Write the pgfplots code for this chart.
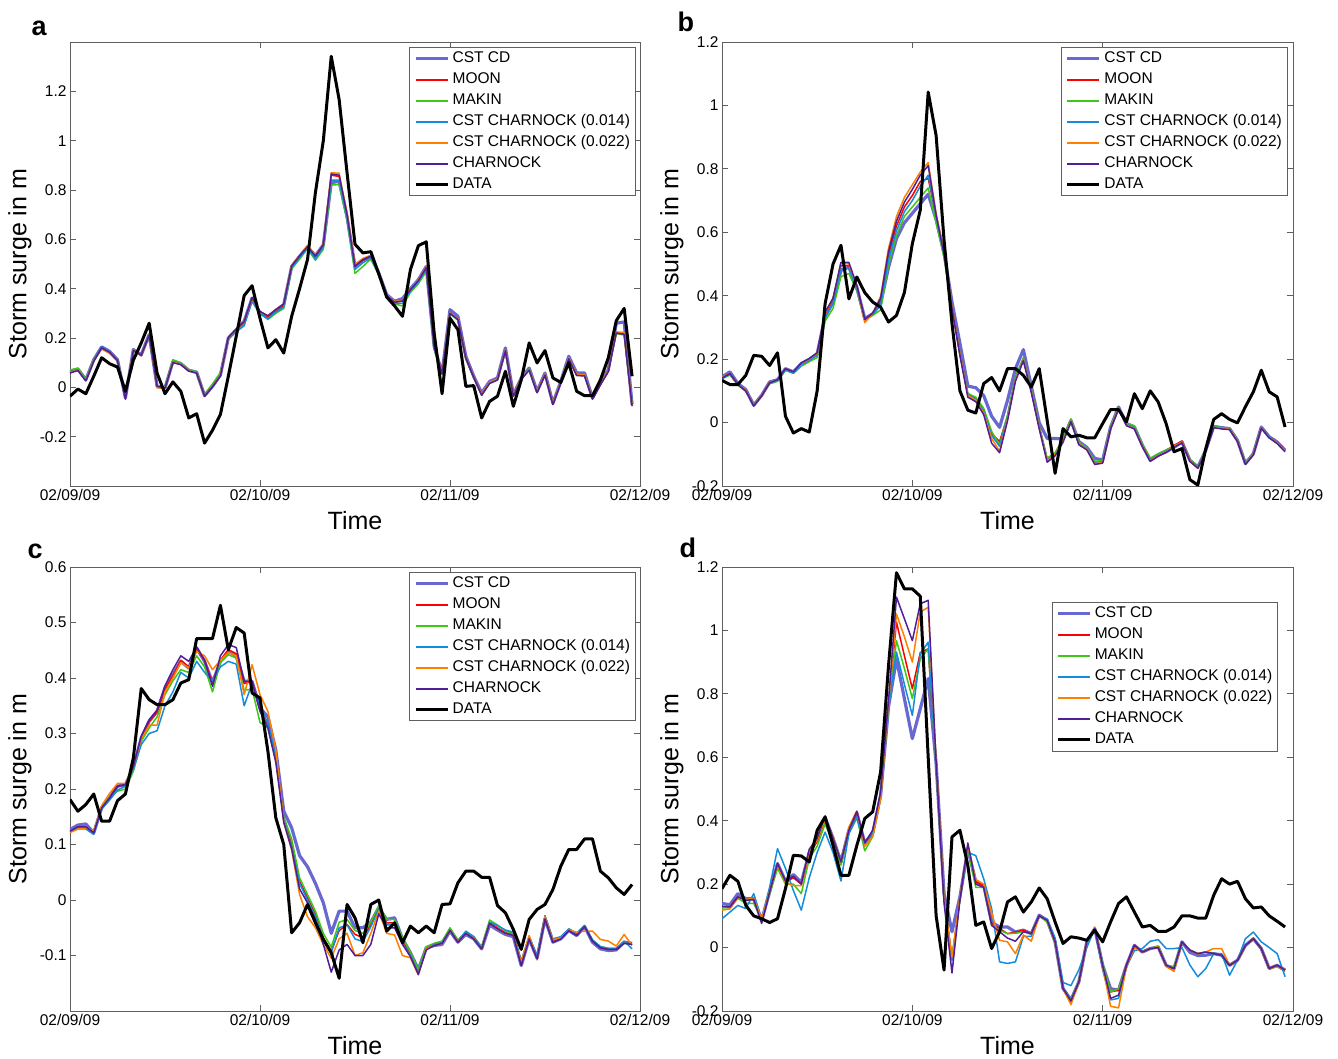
\documentclass[border=0pt]{standalone}
\usepackage{fontspec}
\setmainfont{Liberation Sans}
\usepackage{pgfplots}
\pgfplotsset{compat=1.18}
\usepackage{pgfplotstable}

\definecolor{cstcd}{RGB}{104,104,210}
\definecolor{moon}{RGB}{255,0,0}
\definecolor{makin}{RGB}{60,200,20}
\definecolor{cfour}{RGB}{20,140,220}
\definecolor{ctwo}{RGB}{255,128,0}
\definecolor{charn}{RGB}{80,30,150}
\definecolor{axgray}{RGB}{95,95,95}

\pgfplotstableread{
h cd moon makin c14 c22 ch data
0 0.065 0.062 0.070 0.062 0.060 0.058 -0.036
1 0.074 0.072 0.078 0.072 0.070 0.068 -0.007
2 0.031 0.030 0.035 0.030 0.028 0.026 -0.026
3 0.112 0.110 0.114 0.110 0.108 0.106 0.045
4 0.164 0.158 0.160 0.162 0.155 0.160 0.120
5 0.146 0.140 0.142 0.144 0.138 0.142 0.096
6 0.112 0.108 0.110 0.110 0.105 0.108 0.082
7 -0.043 -0.040 -0.035 -0.040 -0.042 -0.048 -0.016
8 0.153 0.150 0.148 0.150 0.152 0.150 0.110
9 0.132 0.128 0.130 0.130 0.128 0.130 0.180
10 0.214 0.210 0.205 0.208 0.212 0.212 0.260
11 0.004 0.002 0.008 0.004 -0.002 0.004 0.058
12 -0.003 -0.002 0.002 -0.002 -0.004 -0.003 -0.026
13 0.105 0.105 0.112 0.105 0.102 0.100 0.022
14 0.096 0.096 0.100 0.096 0.094 0.092 -0.016
15 0.069 0.070 0.072 0.070 0.068 0.066 -0.124
16 0.061 0.062 0.064 0.062 0.060 0.058 -0.107
17 -0.034 -0.032 -0.028 -0.032 -0.036 -0.036 -0.226
18 0.004 0.008 0.014 0.006 0.004 0.002 -0.174
19 0.050 0.052 0.060 0.050 0.048 0.046 -0.110
20 0.200 0.198 0.195 0.196 0.200 0.202 0.045
21 0.234 0.232 0.228 0.225 0.236 0.236 0.207
22 0.268 0.262 0.255 0.250 0.266 0.266 0.372
23 0.362 0.360 0.352 0.348 0.360 0.364 0.412
24 0.300 0.305 0.300 0.300 0.306 0.308 0.280
25 0.285 0.285 0.275 0.278 0.290 0.290 0.160
26 0.312 0.310 0.300 0.305 0.315 0.315 0.193
27 0.335 0.330 0.320 0.325 0.338 0.338 0.139
28 0.490 0.490 0.480 0.485 0.495 0.492 0.288
29 0.531 0.530 0.520 0.525 0.535 0.533 0.400
30 0.569 0.572 0.562 0.565 0.575 0.570 0.518
31 0.534 0.530 0.515 0.520 0.535 0.532 0.790
32 0.578 0.575 0.560 0.568 0.580 0.578 1.000
33 0.830 0.860 0.820 0.840 0.870 0.865 1.342
34 0.835 0.855 0.822 0.840 0.868 0.860 1.166
35 0.690 0.695 0.680 0.688 0.705 0.700 0.869
36 0.490 0.495 0.462 0.478 0.500 0.490 0.580
37 0.517 0.515 0.490 0.505 0.522 0.518 0.545
38 0.531 0.530 0.520 0.525 0.535 0.532 0.550
39 0.464 0.462 0.455 0.460 0.466 0.464 0.460
40 0.376 0.372 0.365 0.368 0.375 0.372 0.366
41 0.349 0.345 0.338 0.340 0.348 0.345 0.330
42 0.360 0.350 0.330 0.340 0.352 0.350 0.288
43 0.400 0.395 0.385 0.390 0.398 0.396 0.477
44 0.436 0.432 0.420 0.428 0.435 0.432 0.574
45 0.490 0.485 0.470 0.478 0.488 0.485 0.590
46 0.166 0.162 0.155 0.160 0.165 0.162 0.220
47 0.058 0.055 0.052 0.056 0.058 0.055 -0.026
48 0.315 0.300 0.298 0.300 0.302 0.300 0.280
49 0.288 0.275 0.272 0.275 0.278 0.275 0.234
50 0.126 0.118 0.115 0.118 0.120 0.118 0.004
51 0.045 0.040 0.038 0.040 0.042 0.040 0.007
52 -0.023 -0.030 -0.032 -0.030 -0.028 -0.032 -0.124
53 0.024 0.018 0.016 0.018 0.020 0.016 -0.057
54 0.038 0.032 0.030 0.032 0.034 0.030 -0.036
55 0.160 0.148 0.145 0.148 0.150 0.148 0.065
56 -0.030 -0.034 -0.032 -0.034 -0.032 -0.036 -0.077
57 0.038 0.034 0.036 0.034 0.035 0.032 0.030
58 0.078 0.072 0.075 0.070 0.072 0.070 0.180
59 -0.016 -0.020 -0.018 -0.020 -0.019 -0.022 0.099
60 0.058 0.052 0.054 0.052 0.054 0.050 0.149
61 -0.064 -0.068 -0.066 -0.068 -0.066 -0.070 0.038
62 0.024 0.020 0.022 0.020 0.021 0.018 0.020
63 0.126 0.118 0.120 0.118 0.120 0.116 0.100
64 0.058 0.050 0.052 0.050 0.052 0.048 -0.016
65 0.058 0.048 0.050 0.048 0.050 0.046 -0.034
66 -0.043 -0.046 -0.044 -0.046 -0.045 -0.048 -0.034
67 0.018 0.012 0.015 0.012 0.014 0.010 0.030
68 0.072 0.065 0.066 0.065 0.068 0.064 0.120
69 0.260 0.220 0.218 0.222 0.225 0.220 0.270
70 0.265 0.215 0.212 0.218 0.222 0.215 0.320
71 -0.070 -0.072 -0.070 -0.074 -0.072 -0.076 0.045
}\tA

\pgfplotstableread{
h cd moon makin c14 c22 ch data
0 0.144 0.140 0.138 0.140 0.142 0.140 0.133
1 0.160 0.155 0.150 0.152 0.156 0.155 0.120
2 0.123 0.120 0.118 0.120 0.120 0.120 0.120
3 0.104 0.100 0.098 0.100 0.102 0.100 0.149
4 0.055 0.055 0.056 0.055 0.054 0.052 0.212
5 0.086 0.085 0.086 0.085 0.084 0.084 0.209
6 0.128 0.125 0.122 0.124 0.126 0.125 0.180
7 0.135 0.132 0.130 0.132 0.134 0.135 0.220
8 0.170 0.168 0.165 0.166 0.170 0.170 0.020
9 0.160 0.158 0.155 0.156 0.160 0.160 -0.033
10 0.186 0.184 0.178 0.182 0.186 0.188 -0.019
11 0.199 0.198 0.192 0.196 0.200 0.202 -0.030
12 0.217 0.215 0.205 0.212 0.218 0.220 0.100
13 0.335 0.343 0.320 0.330 0.345 0.348 0.375
14 0.380 0.390 0.360 0.375 0.392 0.392 0.500
15 0.480 0.495 0.460 0.485 0.505 0.505 0.559
16 0.490 0.495 0.470 0.488 0.500 0.505 0.390
17 0.427 0.427 0.415 0.420 0.430 0.432 0.459
18 0.328 0.325 0.322 0.325 0.315 0.325 0.410
19 0.343 0.343 0.338 0.340 0.345 0.345 0.380
20 0.375 0.385 0.355 0.372 0.398 0.392 0.364
21 0.490 0.530 0.500 0.515 0.550 0.540 0.317
22 0.580 0.620 0.590 0.605 0.650 0.635 0.338
23 0.630 0.680 0.650 0.665 0.710 0.695 0.410
24 0.660 0.716 0.680 0.700 0.750 0.735 0.564
25 0.690 0.760 0.710 0.745 0.790 0.780 0.670
26 0.720 0.770 0.740 0.780 0.820 0.810 1.042
27 0.640 0.650 0.630 0.650 0.660 0.655 0.905
28 0.535 0.530 0.520 0.530 0.535 0.530 0.575
29 0.380 0.364 0.360 0.362 0.365 0.360 0.312
30 0.250 0.217 0.215 0.215 0.218 0.212 0.100
31 0.115 0.090 0.092 0.088 0.085 0.080 0.039
32 0.110 0.076 0.080 0.074 0.070 0.066 0.030
33 0.085 0.039 0.045 0.035 0.030 0.025 0.123
34 0.020 -0.035 -0.028 -0.040 -0.050 -0.065 0.142
35 -0.015 -0.060 -0.070 -0.075 -0.090 -0.095 0.100
36 0.070 0.020 0.025 0.018 0.012 0.005 0.170
37 0.170 0.140 0.145 0.140 0.135 0.130 0.170
38 0.230 0.200 0.205 0.200 0.198 0.195 0.149
39 0.115 0.100 0.105 0.100 0.098 0.095 0.112
40 0.000 -0.014 -0.010 -0.014 -0.016 -0.020 0.170
41 -0.050 -0.115 -0.112 -0.118 -0.120 -0.125 0.007
42 -0.050 -0.100 -0.095 -0.100 -0.100 -0.105 -0.160
43 -0.052 -0.056 -0.050 -0.058 -0.060 -0.062 -0.019
44 0.007 0.008 0.012 0.006 0.005 0.003 -0.045
45 -0.060 -0.066 -0.062 -0.068 -0.068 -0.070 -0.040
46 -0.078 -0.082 -0.080 -0.082 -0.084 -0.086 -0.048
47 -0.113 -0.125 -0.122 -0.128 -0.130 -0.132 -0.048
48 -0.118 -0.124 -0.120 -0.124 -0.126 -0.128 -0.003
49 -0.014 -0.016 -0.012 -0.016 -0.018 -0.020 0.041
50 0.049 0.046 0.048 0.046 0.044 0.042 0.041
51 -0.003 -0.006 -0.002 -0.006 -0.008 -0.010 0.002
52 -0.014 -0.016 -0.010 -0.016 -0.018 -0.020 0.091
53 -0.071 -0.072 -0.068 -0.072 -0.074 -0.076 0.044
54 -0.119 -0.118 -0.112 -0.118 -0.120 -0.122 0.100
55 -0.103 -0.100 -0.098 -0.102 -0.104 -0.106 0.065
56 -0.092 -0.088 -0.086 -0.090 -0.092 -0.094 -0.003
57 -0.078 -0.072 -0.074 -0.075 -0.076 -0.078 -0.092
58 -0.061 -0.058 -0.062 -0.061 -0.062 -0.064 -0.082
59 -0.119 -0.118 -0.116 -0.119 -0.120 -0.122 -0.180
60 -0.140 -0.142 -0.138 -0.140 -0.144 -0.144 -0.197
61 -0.087 -0.087 -0.085 -0.087 -0.088 -0.090 -0.082
62 -0.012 -0.014 -0.012 -0.014 -0.015 -0.016 0.010
63 -0.016 -0.018 -0.016 -0.018 -0.018 -0.020 0.028
64 -0.019 -0.020 -0.018 -0.020 -0.021 -0.022 0.010
65 -0.056 -0.058 -0.056 -0.058 -0.058 -0.060 -0.001
66 -0.129 -0.128 -0.126 -0.128 -0.130 -0.132 0.050
67 -0.098 -0.098 -0.096 -0.098 -0.100 -0.102 0.097
68 -0.014 -0.016 -0.014 -0.016 -0.018 -0.018 0.165
69 -0.045 -0.046 -0.048 -0.044 -0.046 -0.048 0.097
70 -0.061 -0.062 -0.066 -0.062 -0.064 -0.066 0.081
71 -0.087 -0.088 -0.090 -0.090 -0.090 -0.092 -0.014
}\tB

\pgfplotstableread{
h cd moon makin c14 c22 ch data
0 0.127 0.124 0.124 0.122 0.122 0.124 0.181
1 0.135 0.130 0.130 0.128 0.128 0.132 0.160
2 0.137 0.130 0.130 0.128 0.130 0.132 0.172
3 0.121 0.121 0.122 0.118 0.124 0.121 0.191
4 0.166 0.166 0.168 0.164 0.170 0.166 0.142
5 0.184 0.184 0.186 0.180 0.192 0.184 0.142
6 0.205 0.205 0.196 0.198 0.210 0.205 0.179
7 0.208 0.208 0.200 0.205 0.210 0.208 0.191
8 0.238 0.238 0.232 0.236 0.240 0.240 0.256
9 0.292 0.292 0.286 0.280 0.290 0.295 0.381
10 0.322 0.322 0.310 0.300 0.315 0.325 0.361
11 0.340 0.338 0.330 0.305 0.315 0.342 0.352
12 0.382 0.380 0.370 0.350 0.375 0.386 0.352
13 0.406 0.404 0.395 0.375 0.400 0.415 0.361
14 0.430 0.432 0.415 0.410 0.428 0.440 0.391
15 0.418 0.420 0.410 0.400 0.418 0.430 0.397
16 0.454 0.452 0.440 0.430 0.448 0.456 0.471
17 0.430 0.432 0.420 0.410 0.440 0.432 0.471
18 0.392 0.390 0.375 0.395 0.415 0.385 0.471
19 0.430 0.432 0.428 0.420 0.432 0.440 0.531
20 0.448 0.451 0.442 0.430 0.446 0.460 0.451
21 0.440 0.444 0.436 0.425 0.440 0.455 0.491
22 0.394 0.390 0.378 0.350 0.370 0.394 0.481
23 0.394 0.394 0.380 0.390 0.424 0.394 0.373
24 0.346 0.346 0.320 0.350 0.370 0.340 0.364
25 0.330 0.316 0.310 0.318 0.340 0.310 0.268
26 0.270 0.256 0.250 0.260 0.270 0.248 0.148
27 0.160 0.148 0.150 0.145 0.140 0.140 0.100
28 0.130 0.100 0.110 0.095 0.090 0.092 -0.059
29 0.080 0.034 0.040 0.030 0.010 0.020 -0.041
30 0.060 0.004 0.010 0.000 -0.030 -0.005 -0.008
31 0.030 -0.026 -0.020 -0.030 -0.050 -0.035 -0.041
32 -0.005 -0.068 -0.060 -0.070 -0.080 -0.080 -0.071
33 -0.060 -0.092 -0.085 -0.095 -0.105 -0.130 -0.095
34 -0.020 -0.055 -0.040 -0.050 -0.070 -0.090 -0.141
35 -0.020 -0.044 -0.035 -0.045 -0.060 -0.080 -0.008
36 -0.050 -0.062 -0.055 -0.070 -0.100 -0.100 -0.032
37 -0.050 -0.068 -0.060 -0.075 -0.095 -0.100 -0.077
38 -0.040 -0.044 -0.040 -0.048 -0.060 -0.080 -0.008
39 -0.014 -0.014 -0.010 -0.016 -0.020 -0.025 0.000
40 -0.035 -0.041 -0.035 -0.045 -0.060 -0.050 -0.056
41 -0.032 -0.041 -0.035 -0.045 -0.063 -0.050 -0.041
42 -0.070 -0.074 -0.068 -0.078 -0.100 -0.080 -0.077
43 -0.095 -0.098 -0.094 -0.100 -0.104 -0.102 -0.047
44 -0.125 -0.130 -0.125 -0.132 -0.135 -0.134 -0.059
45 -0.086 -0.086 -0.084 -0.088 -0.088 -0.090 -0.047
46 -0.082 -0.080 -0.078 -0.080 -0.082 -0.082 -0.059
47 -0.080 -0.077 -0.074 -0.077 -0.078 -0.078 -0.008
48 -0.056 -0.053 -0.050 -0.054 -0.055 -0.055 -0.007
49 -0.076 -0.074 -0.072 -0.074 -0.075 -0.076 0.031
50 -0.062 -0.059 -0.058 -0.056 -0.060 -0.060 0.052
51 -0.070 -0.068 -0.066 -0.066 -0.069 -0.070 0.052
52 -0.088 -0.086 -0.084 -0.086 -0.087 -0.088 0.041
53 -0.045 -0.041 -0.036 -0.040 -0.042 -0.042 0.041
54 -0.054 -0.050 -0.045 -0.046 -0.052 -0.052 -0.010
55 -0.062 -0.059 -0.056 -0.054 -0.060 -0.060 -0.023
56 -0.066 -0.062 -0.060 -0.058 -0.064 -0.064 -0.053
57 -0.118 -0.116 -0.110 -0.110 -0.112 -0.118 -0.089
58 -0.070 -0.068 -0.066 -0.066 -0.064 -0.070 -0.035
59 -0.105 -0.105 -0.102 -0.100 -0.108 -0.106 -0.017
60 -0.034 -0.032 -0.030 -0.028 -0.030 -0.034 -0.008
61 -0.076 -0.074 -0.072 -0.070 -0.072 -0.076 0.019
62 -0.070 -0.068 -0.068 -0.066 -0.068 -0.070 0.061
63 -0.055 -0.053 -0.052 -0.052 -0.054 -0.055 0.091
64 -0.064 -0.062 -0.060 -0.060 -0.058 -0.064 0.091
65 -0.048 -0.047 -0.046 -0.046 -0.056 -0.048 0.110
66 -0.076 -0.074 -0.072 -0.072 -0.056 -0.074 0.110
67 -0.088 -0.086 -0.084 -0.084 -0.071 -0.086 0.052
68 -0.091 -0.089 -0.087 -0.087 -0.074 -0.089 0.040
69 -0.090 -0.089 -0.087 -0.087 -0.083 -0.089 0.022
70 -0.076 -0.077 -0.078 -0.074 -0.062 -0.078 0.010
71 -0.078 -0.080 -0.080 -0.088 -0.082 -0.080 0.028
}\tC

\pgfplotstableread{
h cd moon makin c14 c22 ch data
0 0.139 0.128 0.125 0.091 0.118 0.130 0.186
1 0.135 0.128 0.125 0.112 0.122 0.128 0.228
2 0.170 0.160 0.155 0.133 0.158 0.160 0.209
3 0.154 0.149 0.140 0.123 0.152 0.149 0.133
4 0.154 0.152 0.139 0.170 0.155 0.152 0.100
5 0.086 0.086 0.090 0.090 0.090 0.076 0.091
6 0.175 0.175 0.170 0.190 0.178 0.175 0.079
7 0.265 0.260 0.250 0.312 0.260 0.265 0.091
8 0.210 0.207 0.200 0.250 0.205 0.210 0.186
9 0.230 0.220 0.200 0.180 0.195 0.225 0.291
10 0.205 0.200 0.170 0.118 0.195 0.200 0.289
11 0.300 0.295 0.280 0.220 0.300 0.310 0.270
12 0.340 0.335 0.320 0.300 0.340 0.345 0.370
13 0.410 0.405 0.390 0.364 0.405 0.415 0.412
14 0.345 0.340 0.330 0.300 0.350 0.345 0.322
15 0.270 0.265 0.260 0.210 0.270 0.270 0.228
16 0.370 0.370 0.360 0.360 0.380 0.370 0.228
17 0.425 0.425 0.410 0.410 0.430 0.430 0.322
18 0.330 0.330 0.305 0.320 0.320 0.330 0.407
19 0.360 0.360 0.350 0.360 0.350 0.370 0.428
20 0.480 0.480 0.470 0.480 0.470 0.490 0.554
21 0.760 0.770 0.760 0.760 0.770 0.780 0.890
22 0.910 1.026 0.968 0.932 1.052 1.105 1.182
23 0.785 0.920 0.880 0.830 0.980 1.037 1.131
24 0.659 0.816 0.785 0.732 0.900 0.968 1.131
25 0.753 0.930 0.910 0.926 1.058 1.084 1.108
26 0.848 0.942 0.942 0.963 1.073 1.095 0.600
27 0.580 0.575 0.575 0.570 0.590 0.585 0.100
28 0.170 0.154 0.150 0.160 0.155 0.140 -0.071
29 0.050 -0.035 -0.030 -0.040 -0.030 -0.080 0.349
30 0.160 0.154 0.150 0.155 0.160 0.150 0.370
31 0.310 0.322 0.310 0.300 0.320 0.330 0.259
32 0.207 0.207 0.190 0.290 0.215 0.200 0.070
33 0.196 0.196 0.190 0.217 0.200 0.190 0.081
34 0.080 0.076 0.070 0.123 0.110 0.070 -0.003
35 0.065 0.060 0.055 -0.045 0.023 0.050 0.050
36 0.065 0.044 0.044 -0.050 0.018 0.030 0.144
37 0.049 0.049 0.045 -0.045 -0.019 0.020 0.160
38 0.055 0.055 0.050 0.035 0.040 0.050 0.112
39 0.044 0.044 0.044 0.035 0.020 0.044 0.144
40 0.102 0.102 0.100 0.100 0.100 0.100 0.188
41 0.086 0.086 0.080 0.090 0.086 0.086 0.154
42 0.018 0.018 0.015 0.030 0.015 0.018 0.081
43 -0.129 -0.129 -0.130 -0.110 -0.130 -0.129 0.013
44 -0.165 -0.171 -0.165 -0.120 -0.180 -0.168 0.034
45 -0.108 -0.108 -0.105 -0.070 -0.110 -0.108 0.030
46 0.018 0.018 0.015 0.000 0.015 0.018 0.023
47 0.060 0.060 0.060 0.060 0.065 0.060 0.055
48 -0.056 -0.056 -0.050 -0.070 -0.060 -0.056 0.018
49 -0.130 -0.140 -0.140 -0.165 -0.185 -0.160 0.081
50 -0.134 -0.134 -0.130 -0.160 -0.190 -0.150 0.139
51 -0.056 -0.056 -0.060 -0.060 -0.060 -0.056 0.160
52 0.007 0.007 0.000 -0.010 0.000 0.007 0.112
53 -0.014 -0.014 -0.014 -0.003 -0.014 -0.014 0.065
54 -0.003 -0.003 -0.003 0.020 -0.003 -0.003 0.070
55 0.002 0.002 0.005 0.025 0.002 0.000 0.051
56 -0.056 -0.056 -0.056 -0.003 -0.060 -0.056 0.051
57 -0.066 -0.066 -0.060 -0.003 -0.075 -0.066 0.065
58 0.018 0.018 0.018 0.000 0.018 0.018 0.100
59 -0.015 -0.008 -0.008 -0.055 -0.008 -0.008 0.100
60 -0.025 -0.019 -0.020 -0.092 -0.019 -0.019 0.093
61 -0.024 -0.014 -0.014 -0.066 -0.014 -0.014 0.093
62 -0.019 -0.019 -0.019 -0.019 -0.003 -0.019 0.165
63 -0.024 -0.024 -0.024 -0.019 -0.003 -0.024 0.217
64 -0.056 -0.056 -0.056 -0.087 -0.056 -0.056 0.200
65 -0.040 -0.040 -0.040 -0.040 -0.040 -0.040 0.209
66 0.007 0.007 0.007 0.028 0.007 0.007 0.154
67 0.028 0.028 0.028 0.049 0.028 0.028 0.125
68 -0.003 -0.003 -0.003 0.018 -0.003 -0.003 0.128
69 -0.066 -0.066 -0.066 0.000 -0.066 -0.066 0.100
70 -0.056 -0.056 -0.060 -0.019 -0.060 -0.056 0.083
71 -0.071 -0.071 -0.075 -0.092 -0.070 -0.071 0.065
}\tD

\pgfplotsset{
  panel/.style={
    scale only axis, height=444pt,
    xmin=0, xmax=72, xtick={0,24,48,72},
    xticklabels={02/09/09,02/10/09,02/11/09,02/12/09},
    tick align=inside, tick pos=both, major tick length=6pt,
    axis line style={axgray, line width=0.9pt},
    tick style={axgray, line width=0.9pt},
    every tick label/.append style={font=\fontsize{15.5}{18}\selectfont, text=black},
    /pgf/number format/assume math mode=true,
    xlabel={Time}, ylabel={Storm surge in m},
    label style={font=\fontsize{25}{30}\selectfont},
    xlabel style={at={(axis description cs:0.5,-0.097)}, anchor=base},
    ylabel style={at={(axis description cs:-0.0877,0.5)}, anchor=center},
    legend cell align=left,
    legend style={draw=axgray, line width=0.9pt, font=\fontsize{15.5}{18}\selectfont,
      inner xsep=4pt, inner ysep=2pt, row sep=2.5pt, column sep=2pt,
      nodes={inner sep=1.5pt, text height=11.5pt, text depth=4pt}},
    legend image code/.code={\draw[#1] (0pt,0pt) -- (32pt,0pt);},
    every axis plot/.append style={line join=round},
    legend entries={CST CD,MOON,MAKIN,CST CHARNOCK (0.014),CST CHARNOCK (0.022),CHARNOCK,DATA},
  },
  pcd/.style={cstcd, line width=3.2pt},
  pmoon/.style={moon, line width=1.5pt, legend image post style={line width=2.1pt}},
  pmakin/.style={makin, line width=1.5pt, legend image post style={line width=2.1pt}},
  pcf/.style={cfour, line width=1.5pt, legend image post style={line width=2.1pt}},
  pct/.style={ctwo, line width=1.5pt, legend image post style={line width=2.1pt}},
  pch/.style={charn, line width=1.5pt, legend image post style={line width=2.1pt}},
  pdata/.style={black, line width=3pt},
}

\newcommand\allplots[1]{%
  \addplot[pcd] table[x=h,y=cd]{#1};
  \addplot[pmoon] table[x=h,y=moon]{#1};
  \addplot[pmakin] table[x=h,y=makin]{#1};
  \addplot[pcf] table[x=h,y=c14]{#1};
  \addplot[pct] table[x=h,y=c22]{#1};
  \addplot[pch] table[x=h,y=ch]{#1};
  \addplot[pdata] table[x=h,y=data]{#1};
}

\begin{document}
\begin{tikzpicture}
\begin{axis}[panel, width=570pt, at={(70pt,-42pt)}, anchor=north west,
  ymin=-0.4, ymax=1.4, ytick={-0.2,0,0.2,0.4,0.6,0.8,1,1.2},
  legend style={at={(0.993,0.989)}, anchor=north east}]
\allplots{\tA}
\end{axis}
\begin{axis}[panel, width=571pt, at={(722pt,-42pt)}, anchor=north west,
  ymin=-0.2, ymax=1.2, ytick={-0.2,0,0.2,0.4,0.6,0.8,1,1.2},
  legend style={at={(0.991,0.989)}, anchor=north east}]
\allplots{\tB}
\end{axis}
\begin{axis}[panel, width=570pt, at={(70pt,-567pt)}, anchor=north west,
  ymin=-0.2, ymax=0.6, ytick={-0.1,0,0.1,0.2,0.3,0.4,0.5,0.6},
  legend style={at={(0.993,0.989)}, anchor=north east}]
\allplots{\tC}
\end{axis}
\begin{axis}[panel, width=571pt, at={(722pt,-567pt)}, anchor=north west,
  ymin=-0.2, ymax=1.2, ytick={-0.2,0,0.2,0.4,0.6,0.8,1,1.2},
  legend style={at={(0.974,0.921)}, anchor=north east}]
\allplots{\tD}
\end{axis}
\node[anchor=base west, font=\fontsize{27}{30}\selectfont\bfseries] at (28pt,-35pt) {a};
\node[anchor=base west, font=\fontsize{27}{30}\selectfont\bfseries] at (674pt,-31pt) {b};
\node[anchor=base west, font=\fontsize{27}{30}\selectfont\bfseries] at (24pt,-558pt) {c};
\node[anchor=base west, font=\fontsize{27}{30}\selectfont\bfseries] at (676pt,-557pt) {d};
\pgfresetboundingbox
\useasboundingbox (0pt,0pt) rectangle (1338pt,-1058pt);
\end{tikzpicture}
\end{document}
